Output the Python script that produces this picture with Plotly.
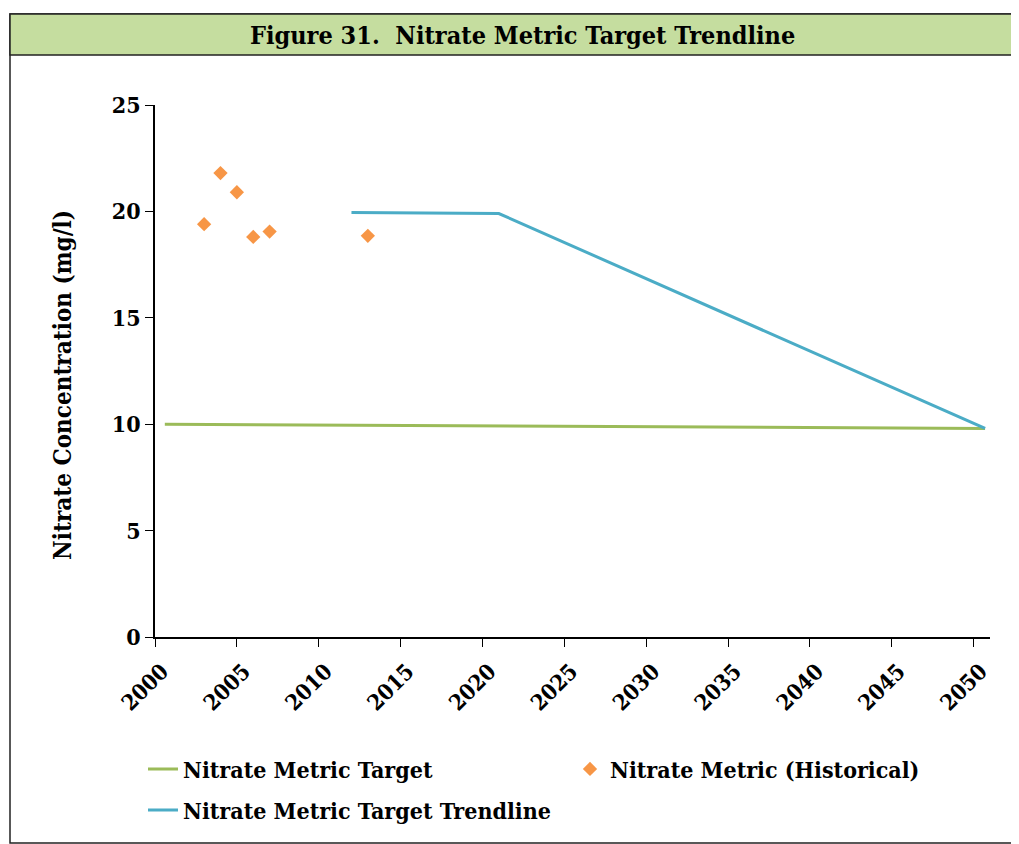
import plotly.graph_objects as go

# ---- data ----
target_years = [2000.6, 2050.7]
target_values = [10.0, 9.8]

hist_years = [2003, 2004, 2005, 2006, 2007, 2013]
hist_values = [19.4, 21.8, 20.9, 18.8, 19.05, 18.85]

trend_years = [2012, 2021, 2050.7]
trend_values = [19.95, 19.9, 9.8]

x_ticks = list(range(2000, 2051, 5))
y_ticks = [0, 5, 10, 15, 20, 25]

# ---- layout geometry (screen pixels; page body has an 8px margin) ----
OFF = 8
W, H = 1019, 844
L, R, T, B = 155 - OFF, 990 - OFF, 105 - OFF, 637 - OFF
FONT = "DejaVu Serif Condensed, DejaVu Serif, serif"


def px(xs):
    return (xs - OFF - L) / (R - L)


def py(ys):
    return (B - (ys - OFF)) / (B - T)


fig = go.Figure()
fig.add_trace(go.Scatter(
    x=target_years, y=target_values, mode="lines",
    name="<b>Nitrate Metric Target</b>",
    line=dict(color="#9bbb59", width=3), legend="legend"))
fig.add_trace(go.Scatter(
    x=hist_years, y=hist_values, mode="markers",
    name="<b>Nitrate Metric (Historical)</b>",
    marker=dict(symbol="diamond", size=11, color="#f79646"), legend="legend"))
fig.add_trace(go.Scatter(
    x=trend_years, y=trend_values, mode="lines",
    name="<b>Nitrate Metric Target Trendline</b>",
    line=dict(color="#4bacc6", width=3), legend="legend2"))

shapes = [
    dict(type="rect", xref="paper", yref="paper",
         x0=px(10), x1=px(1012), y0=py(843), y1=py(14),
         line=dict(color="#222222", width=1.5), layer="below"),
    dict(type="rect", xref="paper", yref="paper",
         x0=px(10), x1=px(1012), y0=py(55), y1=py(14),
         fillcolor="#c5dd9f", line=dict(color="#222222", width=1.5), layer="below"),
]

fig.update_layout(
    width=W, height=H,
    margin=dict(l=L, r=W - R, t=T, b=H - B),
    paper_bgcolor="white", plot_bgcolor="white",
    font=dict(family=FONT, color="black"),
    shapes=shapes,
    annotations=[
        dict(text="<b>Figure 31.  Nitrate Metric Target Trendline</b>",
             xref="paper", yref="paper", x=px(522), y=py(35),
             xanchor="center", yanchor="middle",
             showarrow=False, font=dict(family=FONT, size=25, color="black")),
        dict(text="<b>Nitrate Concentration (mg/l)</b>",
             xref="paper", yref="paper", x=px(62), y=py(385),
             xanchor="center", yanchor="middle", textangle=-90,
             showarrow=False, font=dict(family=FONT, size=24, color="black")),
    ],
    xaxis=dict(range=[2000, 2051], tickvals=x_ticks,
               ticktext=[f"<b>{t}</b>" for t in x_ticks],
               tickangle=-45, tickfont=dict(size=22),
               ticklabelshift=7, ticklabelstandoff=3,
               showgrid=False, zeroline=False,
               showline=True, linecolor="black", linewidth=1.5,
               ticks="outside", ticklen=8, tickcolor="black"),
    yaxis=dict(range=[0, 25], tickvals=y_ticks,
               ticktext=[f"<b>{t}</b>" for t in y_ticks],
               tickfont=dict(size=23),
               showgrid=False, zeroline=False,
               showline=True, linecolor="black", linewidth=1.5,
               ticks="outside", ticklen=8, tickcolor="black"),
    legend=dict(orientation="h", x=px(143), y=py(769), xanchor="left", yanchor="middle",
                entrywidth=382, entrywidthmode="pixels",
                font=dict(size=23), bgcolor="rgba(0,0,0,0)", itemwidth=30),
    legend2=dict(orientation="h", x=px(143), y=py(810), xanchor="left", yanchor="middle",
                 font=dict(size=23), bgcolor="rgba(0,0,0,0)", itemwidth=30),
    showlegend=True,
)

fig.write_html("out.html")
